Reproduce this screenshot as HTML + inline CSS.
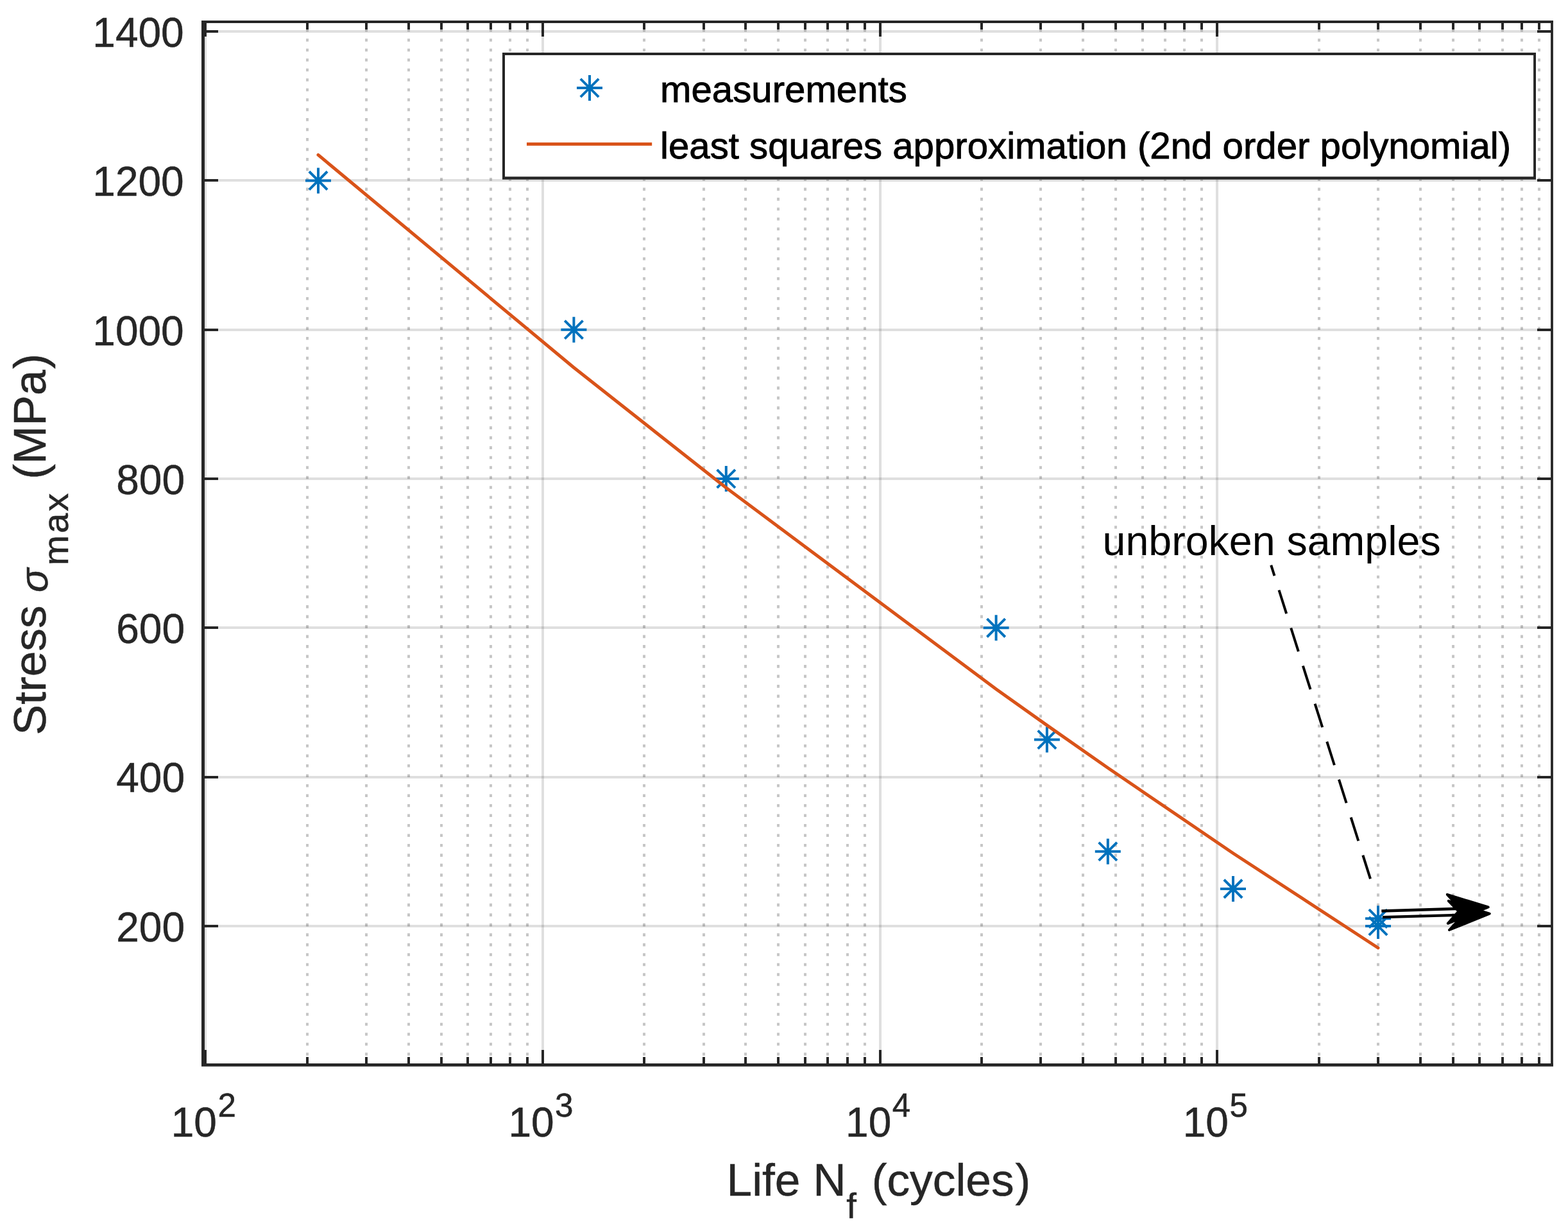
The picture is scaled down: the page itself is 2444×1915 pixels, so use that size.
<!DOCTYPE html><html><head><meta charset="utf-8"><title>S-N curve</title><style>html,body{margin:0;padding:0;background:#fff}svg{display:block}</style></head><body>
<svg width="2444" height="1915" viewBox="0 0 2444 1915">
<rect x="0" y="0" width="2444" height="1915" fill="#fff"/>
<path d="M318 36H322V1657H318ZM844 36H848V1657H844ZM1370 36H1374V1657H1370ZM1895 36H1899V1657H1895Z" fill="#262626" fill-opacity="0.15"/>
<path d="M319 1441H2417V1445H319ZM319 1209H2417V1213H319ZM319 976H2417V980H319ZM319 744H2417V748H319ZM319 512H2417V516H319ZM319 279H2417V283H319ZM319 47H2417V51H319Z" fill="#262626" fill-opacity="0.15"/>
<path d="M479 44.7V1657M571 44.7V1657M637 44.7V1657M688 44.7V1657M729 44.7V1657M765 44.7V1657M795 44.7V1657M822 44.7V1657M1004 44.7V1657M1097 44.7V1657M1162 44.7V1657M1213 44.7V1657M1255 44.7V1657M1290 44.7V1657M1321 44.7V1657M1348 44.7V1657M1530 44.7V1657M1622 44.7V1657M1688 44.7V1657M1739 44.7V1657M1781 44.7V1657M1816 44.7V1657M1846 44.7V1657M1873 44.7V1657M2056 44.7V1657M2148 44.7V1657M2214 44.7V1657M2265 44.7V1657M2306 44.7V1657M2342 44.7V1657M2372 44.7V1657M2399 44.7V1657" stroke="#1a1a1a" stroke-opacity="0.25" stroke-width="4" stroke-dasharray="4.6 10.89" fill="none"/>
<path d="M476.00 281.41H516.00M496.00 261.41V301.41M481.86 267.27L510.14 295.55M481.86 295.55L510.14 267.27M874.40 513.72H914.40M894.40 493.72V533.72M880.26 499.58L908.54 527.86M880.26 527.86L908.54 499.58M1111.80 746.03H1151.80M1131.80 726.03V766.03M1117.66 731.89L1145.94 760.17M1117.66 760.17L1145.94 731.89M1532.60 978.34H1572.60M1552.60 958.34V998.34M1538.46 964.20L1566.74 992.48M1538.46 992.48L1566.74 964.20M1611.90 1152.57H1651.90M1631.90 1132.57V1172.57M1617.76 1138.43L1646.04 1166.71M1617.76 1166.71L1646.04 1138.43M1706.80 1326.80H1746.80M1726.80 1306.80V1346.80M1712.66 1312.66L1740.94 1340.95M1712.66 1340.95L1740.94 1312.66M1902.00 1384.88H1942.00M1922.00 1364.88V1404.88M1907.86 1370.74L1936.14 1399.02M1907.86 1399.02L1936.14 1370.74M2128.00 1431.34H2168.00M2148.00 1411.34V1451.34M2133.86 1417.20L2162.14 1445.49M2133.86 1445.49L2162.14 1417.20M2128.00 1442.96H2168.00M2148.00 1422.96V1462.96M2133.86 1428.82L2162.14 1457.10M2133.86 1457.10L2162.14 1428.82" stroke="#0072BD" stroke-width="4" fill="none"/>
<polyline points="496.00,241.42 894.40,572.74 1131.80,760.08 1552.60,1073.68 1631.90,1130.12 1726.80,1196.57 1922.00,1329.47 2148.00,1476.99" stroke="#D95319" stroke-width="5" fill="none" stroke-linejoin="round" stroke-linecap="round"/>
<path d="M314.00 32.00H319.00V1661.80H314.00ZM314.00 1657.00H2421.00V1661.80H314.00ZM314.00 32.00H2421.00V35.90H314.00ZM2417.10 32.00H2420.90V1661.80H2417.10ZM318.00 1636.00H322.00V1657.00H318.00ZM318.00 35.90H322.00V57.00H318.00ZM477.00 1647.00H481.00V1657.00H477.00ZM477.00 35.90H481.00V46.00H477.00ZM569.00 1647.00H573.00V1657.00H569.00ZM569.00 35.90H573.00V46.00H569.00ZM635.00 1647.00H639.00V1657.00H635.00ZM635.00 35.90H639.00V46.00H635.00ZM686.00 1647.00H690.00V1657.00H686.00ZM686.00 35.90H690.00V46.00H686.00ZM727.00 1647.00H731.00V1657.00H727.00ZM727.00 35.90H731.00V46.00H727.00ZM763.00 1647.00H767.00V1657.00H763.00ZM763.00 35.90H767.00V46.00H763.00ZM793.00 1647.00H797.00V1657.00H793.00ZM793.00 35.90H797.00V46.00H793.00ZM820.00 1647.00H824.00V1657.00H820.00ZM820.00 35.90H824.00V46.00H820.00ZM844.00 1636.00H848.00V1657.00H844.00ZM844.00 35.90H848.00V57.00H844.00ZM1002.00 1647.00H1006.00V1657.00H1002.00ZM1002.00 35.90H1006.00V46.00H1002.00ZM1095.00 1647.00H1099.00V1657.00H1095.00ZM1095.00 35.90H1099.00V46.00H1095.00ZM1160.00 1647.00H1164.00V1657.00H1160.00ZM1160.00 35.90H1164.00V46.00H1160.00ZM1211.00 1647.00H1215.00V1657.00H1211.00ZM1211.00 35.90H1215.00V46.00H1211.00ZM1253.00 1647.00H1257.00V1657.00H1253.00ZM1253.00 35.90H1257.00V46.00H1253.00ZM1288.00 1647.00H1292.00V1657.00H1288.00ZM1288.00 35.90H1292.00V46.00H1288.00ZM1319.00 1647.00H1323.00V1657.00H1319.00ZM1319.00 35.90H1323.00V46.00H1319.00ZM1346.00 1647.00H1350.00V1657.00H1346.00ZM1346.00 35.90H1350.00V46.00H1346.00ZM1370.00 1636.00H1374.00V1657.00H1370.00ZM1370.00 35.90H1374.00V57.00H1370.00ZM1528.00 1647.00H1532.00V1657.00H1528.00ZM1528.00 35.90H1532.00V46.00H1528.00ZM1620.00 1647.00H1624.00V1657.00H1620.00ZM1620.00 35.90H1624.00V46.00H1620.00ZM1686.00 1647.00H1690.00V1657.00H1686.00ZM1686.00 35.90H1690.00V46.00H1686.00ZM1737.00 1647.00H1741.00V1657.00H1737.00ZM1737.00 35.90H1741.00V46.00H1737.00ZM1779.00 1647.00H1783.00V1657.00H1779.00ZM1779.00 35.90H1783.00V46.00H1779.00ZM1814.00 1647.00H1818.00V1657.00H1814.00ZM1814.00 35.90H1818.00V46.00H1814.00ZM1844.00 1647.00H1848.00V1657.00H1844.00ZM1844.00 35.90H1848.00V46.00H1844.00ZM1871.00 1647.00H1875.00V1657.00H1871.00ZM1871.00 35.90H1875.00V46.00H1871.00ZM1895.00 1636.00H1899.00V1657.00H1895.00ZM1895.00 35.90H1899.00V57.00H1895.00ZM2054.00 1647.00H2058.00V1657.00H2054.00ZM2054.00 35.90H2058.00V46.00H2054.00ZM2146.00 1647.00H2150.00V1657.00H2146.00ZM2146.00 35.90H2150.00V46.00H2146.00ZM2212.00 1647.00H2216.00V1657.00H2212.00ZM2212.00 35.90H2216.00V46.00H2212.00ZM2263.00 1647.00H2267.00V1657.00H2263.00ZM2263.00 35.90H2267.00V46.00H2263.00ZM2304.00 1647.00H2308.00V1657.00H2304.00ZM2304.00 35.90H2308.00V46.00H2304.00ZM2340.00 1647.00H2344.00V1657.00H2340.00ZM2340.00 35.90H2344.00V46.00H2340.00ZM2370.00 1647.00H2374.00V1657.00H2370.00ZM2370.00 35.90H2374.00V46.00H2370.00ZM2397.00 1647.00H2401.00V1657.00H2397.00ZM2397.00 35.90H2401.00V46.00H2397.00ZM319.00 1441.00H340.00V1445.00H319.00ZM2396.00 1441.00H2417.10V1445.00H2396.00ZM319.00 1209.00H340.00V1213.00H319.00ZM2396.00 1209.00H2417.10V1213.00H2396.00ZM319.00 976.00H340.00V980.00H319.00ZM2396.00 976.00H2417.10V980.00H2396.00ZM319.00 744.00H340.00V748.00H319.00ZM2396.00 744.00H2417.10V748.00H2396.00ZM319.00 512.00H340.00V516.00H319.00ZM2396.00 512.00H2417.10V516.00H2396.00ZM319.00 279.00H340.00V283.00H319.00ZM2396.00 279.00H2417.10V283.00H2396.00ZM319.00 47.00H340.00V51.00H319.00ZM2396.00 47.00H2417.10V51.00H2396.00Z" fill="#262626"/>
<g font-family="'Liberation Sans', Arial, Helvetica, sans-serif" font-size="64" fill="#262626" stroke="#262626" stroke-width="0.5" text-anchor="end">
<text x="288.0" y="1466.76">200</text>
<text x="288.0" y="1234.45">400</text>
<text x="288.0" y="1002.14">600</text>
<text x="288.0" y="769.83">800</text>
<text x="286.7" y="537.52">1000</text>
<text x="286.7" y="305.21">1200</text>
<text x="286.7" y="72.90">1400</text>
</g>
<g font-family="'Liberation Sans', Arial, Helvetica, sans-serif" font-size="64" fill="#262626" stroke="#262626" stroke-width="0.5" text-anchor="middle">
<text x="317.31" y="1770.7">10<tspan font-size="51.2" dx="1.5" dy="-30.8">2</tspan></text>
<text x="842.98" y="1770.7">10<tspan font-size="51.2" dx="1.5" dy="-30.8">3</tspan></text>
<text x="1368.65" y="1770.7">10<tspan font-size="51.2" dx="1.5" dy="-30.8">4</tspan></text>
<text x="1894.32" y="1770.7">10<tspan font-size="51.2" dx="1.5" dy="-30.8">5</tspan></text>
</g>
<text font-family="'Liberation Sans', Arial, Helvetica, sans-serif" font-size="71.3" fill="#262626" stroke="#262626" stroke-width="0.5" x="1132.5" y="1863.2">Life N<tspan font-size="56.3" dx="0.5" dy="35.1">f</tspan><tspan dx="4" dy="-35.1"> (cycles</tspan><tspan dx="2">)</tspan></text>
<text font-family="'Liberation Sans', Arial, Helvetica, sans-serif" font-size="71.3" fill="#262626" stroke="#262626" stroke-width="0.5" transform="translate(71.2 1145.4) rotate(-90)">Stress <tspan font-style="italic" font-size="62" dx="0.5" dy="2.5">σ</tspan><tspan font-size="56.3" dx="4.7" dy="32.6" letter-spacing="3">max</tspan><tspan dx="-0.9" dy="-35.1"> (MPa</tspan><tspan dx="1.6">)</tspan></text>
<rect x="783" y="82" width="1611" height="197.7" fill="#fff"/>
<path d="M783 82H2394V279.7H783Z M787 85.9V275.2H2390.1V85.9Z" fill="#262626" fill-rule="evenodd"/>
<path d="M899.00 137.00H939.00M919.00 117.00V157.00M904.86 122.86L933.14 151.14M904.86 151.14L933.14 122.86" stroke="#0072BD" stroke-width="4" fill="none"/>
<path d="M821 224.5H1016.2" stroke="#D95319" stroke-width="5" fill="none"/>
<g font-family="'Liberation Sans', Arial, Helvetica, sans-serif" font-size="58.2" fill="#000" stroke="#000" stroke-width="0.9">
<text x="1029" y="159">measurements</text>
<text x="1029" y="246.8">least squares approximation (2nd order polynomial)</text>
</g>
<text font-family="'Liberation Sans', Arial, Helvetica, sans-serif" font-size="64.5" fill="#000" x="1718.6" y="865">unbroken samples</text>
<path d="M1981.2 880.6 L2136.0 1369.4" stroke="#000" stroke-width="4" stroke-dasharray="38.5 23.4" stroke-dashoffset="21.1" fill="none"/>
<path d="M2153.3 1419.45L2276.5 1415.7M2155.1 1429.1L2280 1425.6" stroke="#000" stroke-width="4.4" fill="none"/>
<path d="M2319.7 1413.5L2255.8 1393.8L2276.5 1416.5L2256.8 1438.8Z M2321.7 1423.6L2257.8 1403.8L2280 1426.5L2259 1449Z" stroke="#000" stroke-width="4" stroke-linejoin="round" fill="#000"/>
</svg></body></html>
